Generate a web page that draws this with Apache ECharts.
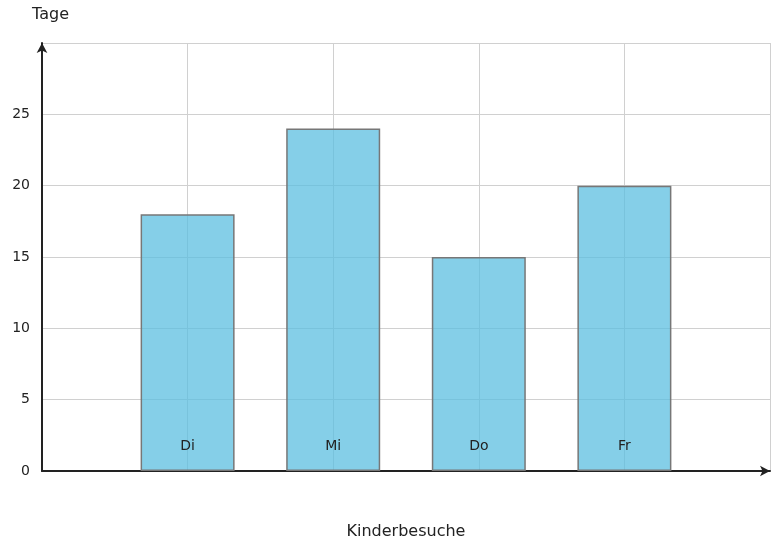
<!DOCTYPE html>
<html><head><meta charset="utf-8">
<script src="https://cdn.jsdelivr.net/npm/echarts@6/dist/echarts.min.js"></script>
<style>html,body{margin:0;padding:0}#c{width:774px;height:548px}</style>
</head><body><div id="c"></div>
<script>
const categories = ['Di', 'Mi', 'Do', 'Fr'];
const values = [18, 24, 15, 20];
const positions = [1, 2, 3, 4];
const yTicks = [0, 5, 10, 15, 20, 25];

const chart = echarts.init(document.getElementById('c'));
const font = 'DejaVu Sans';
chart.setOption({
  animation: false,
  textStyle: {fontFamily: font},
  grid: {left: 42, right: 4, top: 43, bottom: 77},
  xAxis: {
    type: 'value', min: 0, max: 5, interval: 1,
    name: 'Kinderbesuche', nameLocation: 'middle', nameGap: 53,
    nameTextStyle: {fontSize: 16, color: '#222', fontFamily: font},
    axisLabel: {show: false},
    axisTick: {show: false},
    axisLine: {show: true, symbol: ['none', 'arrow'], symbolSize: [8, 10], lineStyle: {color: '#222', width: 2}},
    splitLine: {show: true, lineStyle: {color: '#d0d0d0', width: 1}}
  },
  yAxis: {
    type: 'value', min: 0, max: 30, interval: 5,
    name: 'Tage', nameLocation: 'end', nameGap: 20,
    nameTextStyle: {fontSize: 16, color: '#222', fontFamily: font, align: 'right', padding: [0, -27, 0, 0]},
    axisLabel: {fontSize: 14, color: '#222', fontFamily: font, margin: 12,
      formatter: v => yTicks.includes(v) ? String(v) : ''},
    axisTick: {show: false},
    axisLine: {show: true, symbol: ['none', 'arrow'], symbolSize: [8, 10], lineStyle: {color: '#222', width: 2}},
    splitLine: {show: true, lineStyle: {color: '#d0d0d0', width: 1}}
  },
  series: [{
    type: 'bar',
    barWidth: 94,
    data: values.map((v, i) => [positions[i], v]),
    itemStyle: {color: 'rgba(92,191,224,0.75)', borderColor: '#777', borderWidth: 1.5},
    label: {show: true, position: 'insideBottom', distance: 18, fontSize: 14, color: '#222', fontFamily: font,
      formatter: p => categories[p.dataIndex]}
  }]
});
</script></body></html>
